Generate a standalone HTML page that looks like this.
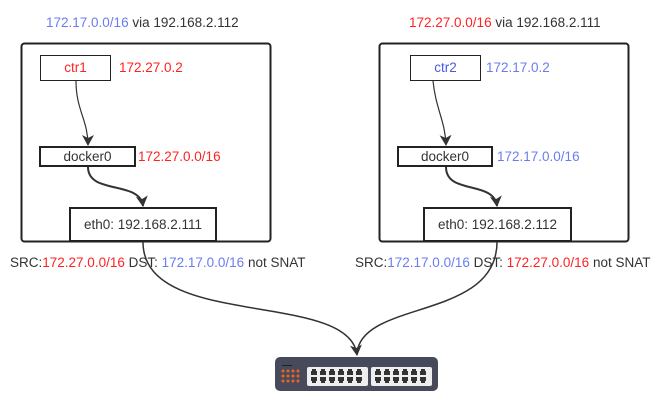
<!DOCTYPE html>
<html><head><meta charset="utf-8"><style>
html,body{margin:0;padding:0;background:#fff;}
svg{display:block;font-family:"Liberation Sans",Arial,sans-serif;}
</style></head><body>
<svg width="661" height="411" viewBox="0 0 661 411" xmlns="http://www.w3.org/2000/svg">
<defs>
<marker id="ah" markerWidth="12" markerHeight="14" refX="10" refY="6" orient="auto" markerUnits="userSpaceOnUse">
<path d="M0,0 L11,6 L0,12 L3,6 Z" fill="#333"/></marker>
</defs>
<g font-size="13.5" fill="#333">
<!-- left -->
<text x="46" y="27"><tspan fill="#6a7cf0">172.17.0.0/16</tspan> via 192.168.2.112</text>
<rect x="21.5" y="43.5" width="249" height="198" rx="3" fill="none" stroke="#222" stroke-width="2"/>
<rect x="40.5" y="55.5" width="70" height="25" fill="#fff" stroke="#222"/>
<text x="75.5" y="72" text-anchor="middle" fill="#f22">ctr1</text>
<text x="119" y="72" fill="#f22">172.27.0.2</text>
<rect x="40" y="147" width="95" height="19" fill="#fff" stroke="#222" stroke-width="2"/>
<text x="87.5" y="161" text-anchor="middle">docker0</text>
<text x="138" y="161" fill="#f22">172.27.0.0/16</text>
<rect x="70" y="208" width="146" height="33" fill="#fff" stroke="#222" stroke-width="2"/>
<text x="143" y="229" text-anchor="middle">eth0: 192.168.2.111</text>
<text x="10" y="267">SRC:<tspan fill="#f22">172.27.0.0/16</tspan> DST: <tspan fill="#6a7cf0">172.17.0.0/16</tspan> not SNAT</text>
<path d="M76,81 C76,110 88,120 88,145" fill="none" stroke="#333" stroke-width="1.2" marker-end="url(#ah)"/>
<path d="M88,167 C88,195 140,180 143,206" fill="none" stroke="#333" stroke-width="2" marker-end="url(#ah)"/>
<!-- right -->
<text x="409" y="27"><tspan fill="#f22">172.27.0.0/16</tspan> via 192.168.2.111</text>
<rect x="379.5" y="43.5" width="249" height="198" rx="3" fill="none" stroke="#222" stroke-width="2"/>
<rect x="410.5" y="55.5" width="70" height="25" fill="#fff" stroke="#222"/>
<text x="445.5" y="72" text-anchor="middle" fill="#4a5ae8">ctr2</text>
<text x="486" y="72" fill="#6a7cf0">172.17.0.2</text>
<rect x="398" y="147" width="94" height="19" fill="#fff" stroke="#222" stroke-width="2"/>
<text x="445" y="161" text-anchor="middle">docker0</text>
<text x="497" y="161" fill="#6a7cf0">172.17.0.0/16</text>
<rect x="424" y="208" width="147" height="33" fill="#fff" stroke="#222" stroke-width="2"/>
<text x="497.5" y="229" text-anchor="middle">eth0: 192.168.2.112</text>
<text x="355" y="267">SRC:<tspan fill="#6a7cf0">172.17.0.0/16</tspan> DST: <tspan fill="#f22">172.27.0.0/16</tspan> not SNAT</text>
<path d="M433,81 C436,110 445,120 446,145" fill="none" stroke="#333" stroke-width="1.2" marker-end="url(#ah)"/>
<path d="M446,167 C446,195 494,180 497,206" fill="none" stroke="#333" stroke-width="2" marker-end="url(#ah)"/>
</g>
<!-- to switch -->
<path d="M143,242 C143,330 350,290 357,355" fill="none" stroke="#333" stroke-width="1.5" marker-end="url(#ah)"/>
<path d="M497,242 C497,320 362,300 357,353" fill="none" stroke="#333" stroke-width="1.5"/>
<!-- switch -->
<rect x="275" y="357" width="163" height="34" rx="5" fill="#474a5a"/>
<rect x="282" y="365" width="10" height="1" fill="#222"/>
<g fill="#e8632a">
<circle cx="283" cy="371" r="1.5"/><circle cx="288" cy="371" r="1.5"/><circle cx="293" cy="371" r="1.5"/><circle cx="298" cy="371" r="1.5"/>
<circle cx="283" cy="376" r="1.5"/><circle cx="288" cy="376" r="1.5"/><circle cx="293" cy="376" r="1.5"/><circle cx="298" cy="376" r="1.5"/>
<circle cx="283" cy="381" r="1.5"/><circle cx="288" cy="381" r="1.5"/><circle cx="293" cy="381" r="1.5"/><circle cx="298" cy="381" r="1.5"/>
</g>
<rect x="307" y="367" width="61" height="19" rx="2" fill="#eee"/>
<rect x="371" y="367" width="61" height="19" rx="2" fill="#eee"/>
<g fill="#333">
<path id="p" d="M0,2 h1 v-2 h4 v2 h1 v4 h-6 z" transform="translate(311,369)"/>
<use href="#p" x="9"/><use href="#p" x="18"/><use href="#p" x="27"/><use href="#p" x="36"/><use href="#p" x="45"/>
<use href="#p" x="64"/><use href="#p" x="73"/><use href="#p" x="82"/><use href="#p" x="91"/><use href="#p" x="100"/><use href="#p" x="109"/>
<path id="q" d="M0,0 h6 v4 h-1 v2 h-4 v-2 h-1 z" transform="translate(311,377)"/>
<use href="#q" x="9"/><use href="#q" x="18"/><use href="#q" x="27"/><use href="#q" x="36"/><use href="#q" x="45"/>
<use href="#q" x="64"/><use href="#q" x="73"/><use href="#q" x="82"/><use href="#q" x="91"/><use href="#q" x="100"/><use href="#q" x="109"/>
</g>
</svg>
</body></html>
